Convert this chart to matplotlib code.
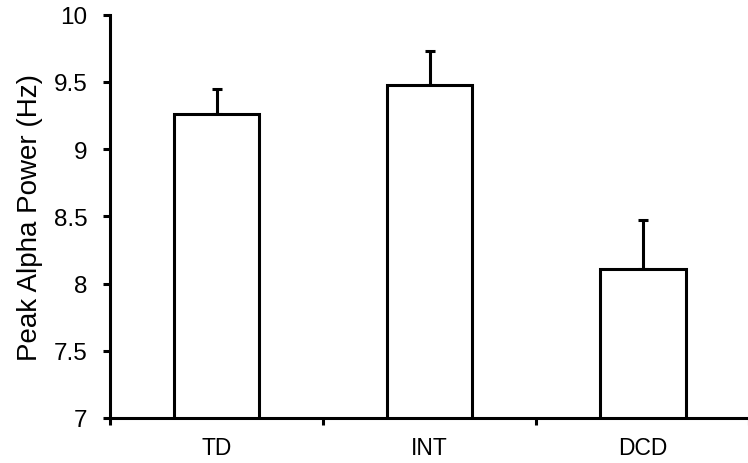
import matplotlib
matplotlib.use("Agg")
import matplotlib.pyplot as plt
import numpy as np

# group means and upper error (SE)
groups = ["TD", "INT", "DCD"]
peak_alpha = [9.26, 9.48, 8.11]
err_up = [0.19, 0.25, 0.36]

plt.rcParams['font.family'] = ['Liberation Sans', 'DejaVu Sans']

fig = plt.figure(figsize=(7.48, 4.64), dpi=100)
ax = fig.add_axes([0.147, 0.097, 0.855, 0.869])

x = np.arange(len(groups))
# only the upper half of the error bar is drawn
yerr = [np.zeros(len(groups)), err_up]
ax.bar(x, peak_alpha, width=0.4, color="white", edgecolor="black",
       linewidth=2.2, zorder=2)
ax.errorbar(x, peak_alpha, yerr=yerr, fmt="none", ecolor="black",
            elinewidth=2.2, capsize=3.5, capthick=2.2, zorder=1)

ax.set_xlim(-0.5, 2.5)
ax.set_ylim(7, 10)
ax.set_yticks([7, 7.5, 8, 8.5, 9, 9.5, 10])
ax.set_yticklabels(["7", "7.5", "8", "8.5", "9", "9.5", "10"])
ax.set_xticks(x)
ax.set_xticklabels(groups)
ax.set_xticks([-0.5, 0.5, 1.5, 2.5], minor=True)

ax.tick_params(axis="x", which="major", length=0, pad=13, labelsize=16.5)
ax.tick_params(axis="x", which="minor", length=5, width=2.2, direction="out")
ax.tick_params(axis="y", length=5, width=2.2, direction="out", pad=11,
               labelsize=17.5)

for side in ["top", "right"]:
    ax.spines[side].set_visible(False)
for side in ["left", "bottom"]:
    ax.spines[side].set_linewidth(2.2)

ax.set_ylabel("Peak Alpha Power (Hz)", fontsize=20, labelpad=8)

plt.savefig("out.png", dpi=100)
